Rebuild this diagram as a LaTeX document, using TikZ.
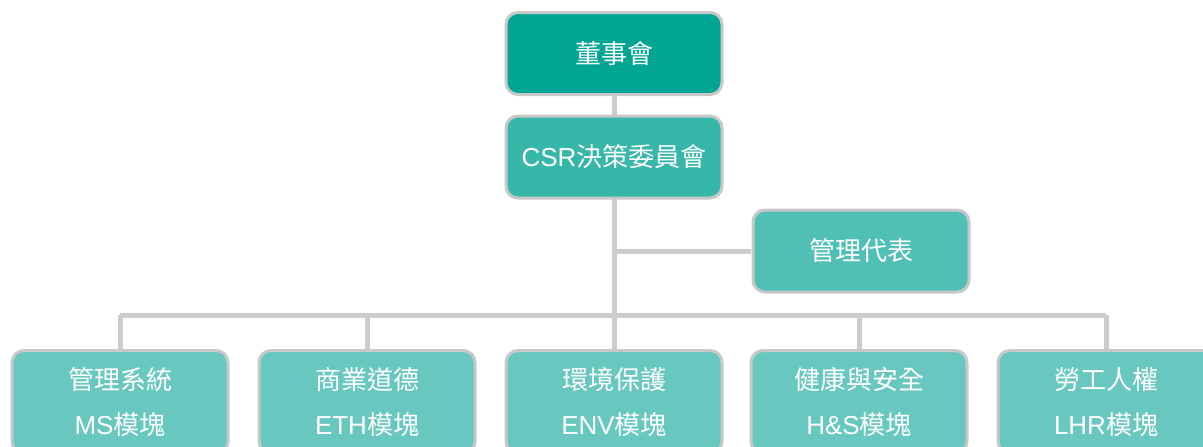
\documentclass[tikz,border=0pt]{standalone}
\usepackage{fontspec}
\setmainfont{Liberation Sans}
\newfontfamily\cjk{Noto Sans CJK TC}
\definecolor{cTop}{RGB}{0,165,148}
\definecolor{cCsr}{RGB}{55,183,170}
\definecolor{cRep}{RGB}{80,191,181}
\definecolor{cMod}{RGB}{104,200,192}
\definecolor{cLine}{RGB}{204,204,204}
\definecolor{cBorder}{RGB}{200,200,200}
\tikzset{
  orgbox/.style={draw=cBorder, line width=3pt, rounded corners=12pt, text=white,
    minimum width=216pt, minimum height=82pt, inner sep=0pt,
    font=\fontsize{26}{30}\selectfont},
  modbox/.style={orgbox, minimum height=103pt, align=center,
    font=\fontsize{26}{45}\selectfont},
  link/.style={draw=cLine, line width=5pt}
}
\begin{document}
\begin{tikzpicture}[x=1pt,y=-1pt]
\useasboundingbox (0,0) rectangle (1203,447);
\clip (0,0) rectangle (1203,447);
\fill[white] (0,0) rectangle (1203,447);
% connectors first
\coordinate (jrep) at (614,251);
\coordinate (bus) at (614,315);
\coordinate (busL) at (120,315);
\coordinate (busR) at (1106,315);
\draw[link] (614,96) -- (614,115);
\draw[link] (614,199) -- (bus);
\draw[link] (jrep) -- (751,251);
\draw[link] (busL) -- (busR);
\foreach \x in {120,367,614,859,1106}{\draw[link] (\x,315) -- (\x,350);}
% boxes
\node[orgbox, fill=cTop] (board) at (614,53.5) {\cjk 董事會};
\node[orgbox, fill=cCsr] (csr) at (614,157) {CSR{\cjk 決策委員會}};
\node[orgbox, fill=cRep] (rep) at (861,251) {\cjk 管理代表};
\node[modbox, fill=cMod] (ms) at (120,402) {{\cjk 管理系統}\\MS{\cjk 模塊}};
\node[modbox, fill=cMod] (eth) at (367,402) {{\cjk 商業道德}\\ETH{\cjk 模塊}};
\node[modbox, fill=cMod] (env) at (614,402) {{\cjk 環境保護}\\ENV{\cjk 模塊}};
\node[modbox, fill=cMod] (hs) at (859,402) {{\cjk 健康與安全}\\H\&S{\cjk 模塊}};
\node[modbox, fill=cMod] (lhr) at (1106,402) {{\cjk 勞工人權}\\LHR{\cjk 模塊}};
\end{tikzpicture}
\end{document}
